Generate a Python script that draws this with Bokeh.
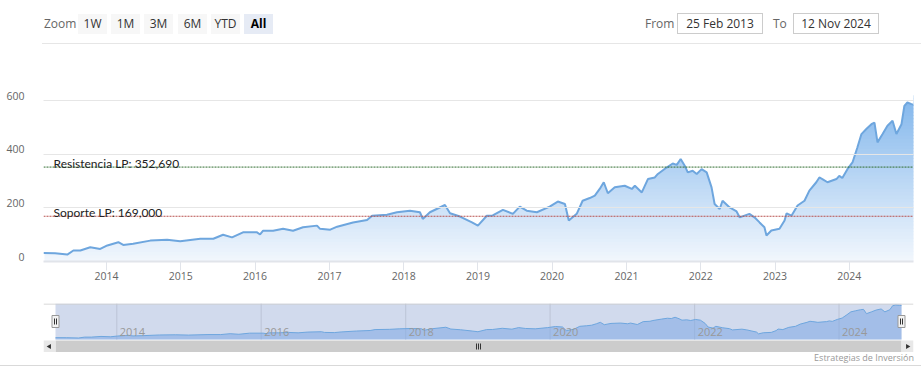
import numpy as np
import pandas as pd
from bokeh.plotting import figure
from bokeh.models import Range1d, FixedTicker, Span, Label, Div, DatetimeTickFormatter, LinearAxis
from bokeh.layouts import column
from bokeh.embed import file_html
from bokeh.resources import INLINE
from bokeh.core.properties import value

# ---------------- data ----------------
dates = [
    "2013-02-25", "2013-04-23", "2013-06-22", "2013-07-22", "2013-08-25", "2013-10-13", "2013-12-01",
    "2014-01-05", "2014-02-28", "2014-03-24", "2014-05-12", "2014-08-04", "2014-10-26", "2014-12-29",
    "2015-04-07", "2015-06-10", "2015-07-28", "2015-09-10", "2015-11-03",
    "2016-01-11", "2016-01-26", "2016-02-10", "2016-03-30", "2016-05-18", "2016-07-06", "2016-08-24",
    "2016-11-01", "2016-11-16",
    "2017-01-05", "2017-02-08", "2017-04-27", "2017-07-05", "2017-07-30", "2017-10-11", "2017-11-29",
    "2018-02-01", "2018-03-22", "2018-04-05", "2018-05-10", "2018-07-23", "2018-08-17", "2018-10-05",
    "2018-12-03",
    "2019-01-01", "2019-02-14", "2019-03-15", "2019-05-04", "2019-06-22", "2019-07-26", "2019-08-29",
    "2019-10-18", "2019-12-20",
    "2020-01-29", "2020-03-04", "2020-03-23", "2020-05-01", "2020-05-30", "2020-07-04", "2020-07-29",
    "2020-08-22", "2020-09-11", "2020-10-01", "2020-11-04", "2020-12-23",
    "2021-01-27", "2021-02-11", "2021-03-17", "2021-04-16", "2021-05-20", "2021-06-04", "2021-07-17",
    "2021-08-16", "2021-09-05", "2021-09-24", "2021-10-14", "2021-10-29", "2021-11-22", "2021-12-12",
    "2022-01-05", "2022-01-30", "2022-02-23", "2022-03-10", "2022-04-04", "2022-04-18", "2022-05-23",
    "2022-06-26", "2022-07-11", "2022-08-28", "2022-09-22", "2022-10-17", "2022-11-10", "2022-11-20",
    "2022-12-14",
    "2023-01-23", "2023-02-17", "2023-02-27", "2023-03-23", "2023-04-22", "2023-05-26", "2023-06-19",
    "2023-07-23", "2023-08-07", "2023-08-22", "2023-09-16", "2023-10-30", "2023-11-13", "2023-11-28",
    "2023-12-23",
    "2024-01-17", "2024-02-10", "2024-03-01", "2024-03-25", "2024-04-19", "2024-05-04", "2024-05-19",
    "2024-06-13", "2024-07-07", "2024-08-01", "2024-08-20", "2024-09-14", "2024-09-28", "2024-10-13",
    "2024-11-02", "2024-11-12",
]
prices = [
    32, 31, 26, 41, 41, 53, 47,
    60, 72, 62, 66, 78, 81, 76,
    85, 85, 100, 90, 109,
    109, 101, 115, 115, 122, 115, 128, 134, 122,
    119, 130, 146, 155, 171, 175, 184,
    190, 184, 159, 184, 211, 180, 168, 146,
    134, 171, 172, 193, 178, 205, 190, 184, 205,
    224, 215, 153, 178, 227, 237, 246, 271, 296, 255, 277, 283,
    271, 283, 258, 308, 314, 327, 351, 366, 361, 383, 358, 333, 339, 327,
    345, 333, 277, 215, 196, 227, 202, 187, 165, 178, 165, 146, 128, 97, 116,
    122, 153, 180, 171, 209, 227, 265, 296, 314, 308, 296, 308, 320, 312, 345,
    370, 426, 476, 495, 513, 519, 445, 476, 507, 526, 476, 513, 581, 594, 588, 586,
]
resistencia = 352.690
soporte = 169.000
y_ticks = [0, 200, 400, 600]
x_years = [2014, 2015, 2016, 2017, 2018, 2019, 2020, 2021, 2022, 2023, 2024]
nav_years = [2014, 2016, 2018, 2020, 2022, 2024]
zoom_buttons = ["1W", "1M", "3M", "6M", "YTD", "All"]
selected_button = "All"
from_date = "25 Feb 2013"
to_date = "12 Nov 2024"
credit = "Estrategias de Inversión"

# ---------------- helpers ----------------
def ms(s):
    return pd.Timestamp(s).value / 1e6

x = np.array([ms(d) for d in dates])
y = np.array(prices, dtype=float)
t0, t1 = x[0], x[-1]
span_t = t1 - t0

FONT = "Open Sans"
LINE = "#6ea6de"
W = 921

# ---------------- top bar (range selector + inputs) ----------------
parts = ['<div style="position:relative;width:921px;height:44px;font-family:\'Open Sans\',sans-serif;">']
parts.append('<div style="position:absolute;left:44px;top:14px;height:20px;line-height:20px;'
             'font-size:12px;color:#666666;">Zoom</div>')
for i, b in enumerate(zoom_buttons):
    sel = (b == selected_button)
    bg = "#e6ebf5" if sel else "#f7f7f7"
    fw = "bold" if sel else "normal"
    col = "#000000" if sel else "#333333"
    parts.append(
        f'<div style="position:absolute;left:{78 + i * 33.2:.0f}px;top:14px;width:29px;height:20px;'
        f'line-height:20px;background:{bg};color:{col};font-weight:{fw};text-align:center;'
        f'font-size:12px;">{b}</div>')
parts.append('<div style="position:absolute;left:645px;top:14px;height:20px;line-height:20px;'
             'font-size:12px;color:#666666;">From</div>')
parts.append(f'<div style="position:absolute;left:677px;top:13px;width:86px;height:21px;box-sizing:border-box;'
             f'border:1px solid #cccccc;line-height:19px;text-align:center;font-size:12px;color:#333333;">{from_date}</div>')
parts.append('<div style="position:absolute;left:773px;top:14px;height:20px;line-height:20px;'
             'font-size:12px;color:#666666;">To</div>')
parts.append(f'<div style="position:absolute;left:793px;top:13px;width:86px;height:21px;box-sizing:border-box;'
             f'border:1px solid #cccccc;line-height:19px;text-align:center;font-size:12px;color:#333333;">{to_date}</div>')
parts.append('<div style="position:absolute;left:42px;top:43px;width:879px;height:1px;background:#e6e6e6;"></div>')
parts.append('</div>')
top_div = Div(text="".join(parts), width=W, height=44, margin=0)

# ---------------- main chart ----------------
Y_TOP = 650
FRAME_W, FRAME_H = 871, 174
p = figure(width=W, height=251, x_axis_type="datetime",
           x_range=Range1d(t0, t1), y_range=Range1d(0, Y_TOP),
           output_backend="svg", toolbar_location=None,
           min_border_left=43, min_border_right=7, min_border_top=43, min_border_bottom=34)
p.outline_line_color = None
p.background_fill_color = "white"
p.border_fill_color = "white"

# vertical gradient under the curve: colour bands, then a white mask above the series
px_t = span_t / FRAME_W
band_top = 620
n_b = 50
edges = np.linspace(0, band_top, n_b + 1)
top_rgb = np.array([124, 179, 235])
bot_rgb = np.array([242, 247, 253])
frac = (edges[:-1] + edges[1:]) / 2 / Y_TOP
cols = ["#%02x%02x%02x" % tuple(np.round(bot_rgb + (top_rgb - bot_rgb) * f).astype(int)) for f in frac]
p.quad(left=[t0 + px_t] * n_b, right=[t1 + 20 * px_t] * n_b, bottom=edges[:-1] - 1.5, top=edges[1:] + 1.5,
       fill_color=cols, line_color=None)
p.varea(x=np.concatenate([[t0 - 20 * px_t], x, [t1 + 20 * px_t]]),
        y1=np.concatenate([[y[0]], y, [y[-1]]]), y2=Y_TOP + 100, fill_color="white")
p.line(x, y, line_color=LINE, line_width=2)

p.add_layout(Span(location=resistencia, dimension="width", line_color="#2e6b2e",
                  line_dash="2 1", line_width=1))
p.add_layout(Span(location=soporte, dimension="width", line_color="#b8504e",
                  line_dash="2 1", line_width=1))
lab_r = "Resistencia LP: " + f"{resistencia:.3f}".replace(".", ",")
lab_s = "Soporte LP: " + f"{soporte:.3f}".replace(".", ",")
for txt, lv in ((lab_r, resistencia), (lab_s, soporte)):
    p.add_layout(Label(x=t0, y=lv, x_offset=10, y_offset=4, text=txt,
                       text_font="Lato", text_font_size="12px", text_color="#222222",
                       text_baseline="alphabetic"))

# y axis: labels sit ~5px above their grid lines, via a shifted label range
p.yaxis.visible = False
p.ygrid.ticker = FixedTicker(ticks=y_ticks)
shift = 5 * Y_TOP / FRAME_H
p.extra_y_ranges = {"lab": Range1d(-shift, Y_TOP - shift)}
yax = LinearAxis(y_range_name="lab", ticker=FixedTicker(ticks=y_ticks))
yax.axis_line_color = None
yax.major_tick_line_color = None
yax.minor_tick_line_color = None
yax.major_label_standoff = 13
yax.major_label_text_color = "#666666"
yax.major_label_text_font = FONT
yax.major_label_text_font_size = "10.5px"
p.add_layout(yax, "left")

p.xaxis.ticker = FixedTicker(ticks=[ms(f"{yr}-01-01") for yr in x_years])
p.xaxis.formatter = DatetimeTickFormatter(years="%Y", months="%Y", days="%Y")
p.xaxis.axis_line_color = "#e1e4ea"
p.xaxis.axis_line_width = 2
p.xaxis.major_tick_line_color = "#e1e4ea"
p.xaxis.major_tick_in = 0
p.xaxis.major_tick_out = 9
p.xaxis.minor_tick_line_color = None
p.xaxis.major_label_standoff = 1
p.xaxis.major_label_text_color = "#666666"
p.xaxis.major_label_text_font = FONT
p.xaxis.major_label_text_font_size = "10.5px"

p.xgrid.grid_line_color = None
p.ygrid.grid_line_color = "#e6e6e6"
p.ygrid.level = "guide"

# ---------------- navigator + scrollbar ----------------
NW, NH = 870, 49           # frame in pixel units
N_L, N_R = 12, 858         # navigator series span inside the frame
N_B = 13                   # navigator bottom (above the scrollbar)
nav = figure(width=W, height=57, x_range=Range1d(0, NW), y_range=Range1d(0, NH),
             output_backend="svg", toolbar_location=None,
             min_border_left=43, min_border_right=8, min_border_top=8, min_border_bottom=0,
             x_axis_location=None, y_axis_location=None)
nav.outline_line_color = None
nav.grid.grid_line_color = None
per_px_t = span_t / (N_R - N_L)
nav.extra_x_ranges = {"t": Range1d(t0 - N_L * per_px_t, t1 + (NW - N_R) * per_px_t)}
V_TOP = 620
per_px_v = V_TOP / (NH - N_B)
nav.extra_y_ranges = {"v": Range1d(-N_B * per_px_v, V_TOP)}

nav.quad(left=[N_L], right=[N_R], bottom=[N_B], top=[NH], fill_color="#d1daed", line_color=None)
nav_x = [ms(f"{yr}-01-01") for yr in nav_years]
nav.segment(x0=nav_x, y0=[N_B] * len(nav_x), x1=nav_x, y1=[NH] * len(nav_x),
            x_range_name="t", line_color="#bcc4d6", line_width=1)
nav.varea(x=x, y1=0, y2=y, x_range_name="t", y_range_name="v",
          fill_color="#7ea8e3", fill_alpha=0.55)
nav.line(x, y, x_range_name="t", y_range_name="v", line_color=LINE, line_width=1)
nav.text(x=nav_x, y=[N_B + 8] * len(nav_x), text=[str(v) for v in nav_years], x_range_name="t",
         x_offset=3, text_baseline="middle", text_align="left",
         text_font=value(FONT), text_font_size="11px", text_color="#999999")
nav.segment(x0=[0], y0=[NH - 0.5], x1=[NW], y1=[NH - 0.5], line_color="#cccccc", line_width=1)

# scrollbar
nav.quad(left=[N_L], right=[N_R], bottom=[0], top=[12], fill_color="#cccccc", line_color=None)
nav.quad(left=[0, N_R], right=[N_L, NW], bottom=[0, 0], top=[12, 12],
         fill_color="#e8e8e8", line_color=None)
nav.scatter(x=[N_L / 2, (N_R + NW) / 2], y=[6, 6], marker="triangle", size=5,
            angle=[np.pi / 2, -np.pi / 2], fill_color="#333333", line_color=None)
cx = (N_L + N_R) / 2
nav.segment(x0=[cx - 2, cx, cx + 2], y0=[3, 3, 3], x1=[cx - 2, cx, cx + 2], y1=[9, 9, 9],
            line_color="#333333", line_width=1)

# handles
for hx in (N_L, N_R):
    nav.quad(left=[hx - 3.5], right=[hx + 3.5], bottom=[25], top=[37],
             fill_color="#f2f2f2", line_color="#999999", line_width=1)
    nav.segment(x0=[hx - 1, hx + 1], y0=[28, 28], x1=[hx - 1, hx + 1], y1=[34, 34],
                line_color="#333333", line_width=1)

# ---------------- credit strip ----------------
bot_html = ('<div style="position:relative;width:921px;height:30px;font-family:\'Open Sans\',sans-serif;">'
            f'<div style="position:absolute;right:7px;top:0px;height:12px;line-height:12px;font-size:9px;'
            f'color:#999999;">{credit}</div>'
            '<div style="position:absolute;left:0px;top:13px;width:921px;height:1px;background:#d9d9d9;"></div>'
            '</div>')
bot_div = Div(text=bot_html, width=W, height=30, margin=0)

layout = column(top_div, p, nav, bot_div, spacing=0)
open("out.html", "w").write(file_html(layout, INLINE))
